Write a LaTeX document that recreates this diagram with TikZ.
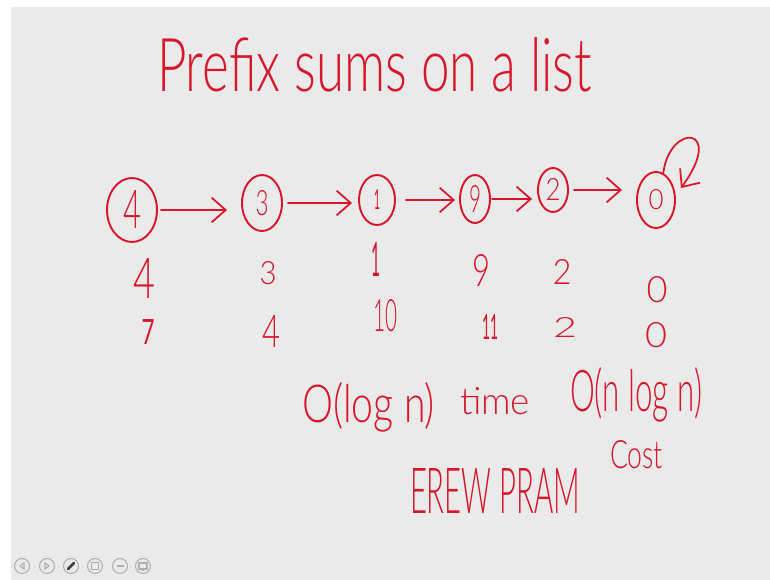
\documentclass[tikz,border=0pt]{standalone}
\usepackage{fontspec}
\usepackage{graphicx}
\usetikzlibrary{shapes.geometric,arrows.meta}
\newfontfamily\hand{Lato}[UprightFont=* Light]
\newfontfamily\handr{Lato}
\definecolor{ink}{RGB}{214,22,42}
\definecolor{board}{RGB}{234,234,234}
\definecolor{iconc}{RGB}{175,175,175}
\newdimen\pxu \pxu=0.02cm
\newcommand{\hw}[3]{\resizebox{#1\pxu}{#2\pxu}{\hand #3}}
\newcommand{\hr}[3]{\resizebox{#1\pxu}{#2\pxu}{\handr #3}}
\begin{document}
\begin{tikzpicture}[x=0.02cm,y=-0.02cm,
  txt/.style={text=ink, inner sep=0pt, outer sep=0pt},
  ring/.style={draw=ink, line width=1.1pt, ellipse, inner sep=0pt, text=ink},
  arr/.style={draw=ink, line width=1pt, line cap=round,
    -{Straight Barb[length=8pt,width=14pt,line width=1pt]}},
  icon/.style={draw=iconc, line width=0.6pt, circle, minimum size=15\pxu, inner sep=0pt}]
% background
\fill[white] (0,0) rectangle (770,580);
\fill[board] (11,7) rectangle (770,580);
\useasboundingbox (0,0) rectangle (770,580);
% title
\node[txt, anchor=base west] (title) at (157,92) {\hw{435}{54}{Prefix sums on a list}};
% list nodes
\node[ring, minimum width=1.0cm, minimum height=1.28cm] (n4) at (132,210) {\hw{18}{38}{4}};
\node[ring, minimum width=0.8cm, minimum height=1.12cm] (n3) at (262,203) {\hw{13}{25}{3}};
\node[ring, minimum width=0.72cm, minimum height=1.0cm] (n1) at (377,200) {\hr{6}{20}{1}};
\node[ring, minimum width=0.6cm, minimum height=0.96cm] (n9) at (475,199) {\hw{12}{27}{9}};
\node[ring, minimum width=0.6cm, minimum height=0.88cm] (n2) at (553,190) {\hw{15}{22}{2}};
\node[ring, minimum width=0.76cm, minimum height=1.12cm] (n0) at (656,200) {\hw{15}{20}{0}};
% arrows
\draw[arr, shorten <=3\pxu, shorten >=14\pxu] (n4.east) -- (n4.east -| n3.west);
\draw[arr, shorten <=5\pxu, shorten >=6\pxu] (n3.east) -- (n3.east -| n1.west);
\draw[arr, shorten <=10\pxu, shorten >=4\pxu] (n1.east) -- (n1.east -| n9.west);
\draw[arr, shorten <=1\pxu, shorten >=5\pxu] (n9.east) -- (n9.east -| n2.west);
\draw[arr, shorten <=5\pxu, shorten >=14\pxu] (n2.east) -- (n2.east -| n0.west);
\coordinate (loopend) at (681,188);
\draw[arr] (n0.75) .. controls (670,122) and (726,126) .. (loopend);
% first row of values
\node[txt] (a1) at (144,278) {\hw{22}{40}{4}};
\node[txt] (a2) at (268,273) {\hw{17}{23}{3}};
\node[txt] (a3) at (376,260) {\hr{9}{34}{1}};
\node[txt] (a4) at (481,271) {\hw{18}{32}{9}};
\node[txt] (a5) at (562,272) {\hw{19}{25}{2}};
\node[txt] (a6) at (657,290) {\hw{21}{26}{0}};
% second row of values
\node[txt] (b1) at (148,332) {\hr{13}{25}{7}};
\node[txt] (b2) at (271,331) {\hw{18}{32}{4}};
\node[txt] (b3) at (385,316) {\hw{24}{32}{10}};
\node[txt] (b4) at (490,327) {\hr{16}{25}{11}};
\node[txt] (b5) at (565,328) {\hw{24}{20}{2}};
\node[txt] (b6) at (656,335) {\hw{22}{25}{0}};
% complexity
\node[txt, anchor=base west] (t1) at (302,422) {\hw{133}{40}{O(log n)}};
\node[txt, anchor=base west] (t2) at (460,414) {\hw{70}{27}{time}};
\node[txt, anchor=base west] (t3) at (570,412) {\hw{132}{44}{O(n log n)}};
\node[txt, anchor=base west] (t4) at (610,468) {\hw{53}{28}{Cost}};
\node[txt, anchor=base west] (t5) at (410,513) {\hw{170}{45}{EREW PRAM}};
% toolbar icons
\node[icon] (i1) at (22,566) {};
\node[icon] (i2) at (47,566) {};
\node[icon] (i3) at (71,566) {};
\node[icon] (i4) at (95,566) {};
\node[icon] (i5) at (120,566) {};
\node[icon] (i6) at (143,566) {};
\draw[iconc, line width=0.6pt] ([xshift=2\pxu,yshift=3\pxu]i1.center) -- ([xshift=-2\pxu]i1.center) -- ([xshift=2\pxu,yshift=-3\pxu]i1.center) -- cycle;
\draw[iconc, line width=0.6pt] ([xshift=-2\pxu,yshift=3\pxu]i2.center) -- ([xshift=2\pxu]i2.center) -- ([xshift=-2\pxu,yshift=-3\pxu]i2.center) -- cycle;
\draw[black!75, line width=1.6pt, line cap=round] ([xshift=-3\pxu,yshift=-3\pxu]i3.center) -- ([xshift=3\pxu,yshift=3\pxu]i3.center);
\draw[iconc, line width=0.6pt] ([xshift=-3.5\pxu,yshift=-3.5\pxu]i4.center) rectangle ([xshift=3.5\pxu,yshift=3.5\pxu]i4.center);
\draw[iconc, line width=0.8pt] ([xshift=-3.5\pxu]i5.center) -- ([xshift=3.5\pxu]i5.center);
\draw[iconc, line width=0.6pt] ([xshift=-4\pxu,yshift=-3\pxu]i6.center) rectangle ([xshift=4\pxu,yshift=3\pxu]i6.center);
\draw[iconc, line width=0.6pt] ([yshift=-3\pxu]i6.center) -- ([yshift=-5\pxu]i6.center);
\end{tikzpicture}
\end{document}
